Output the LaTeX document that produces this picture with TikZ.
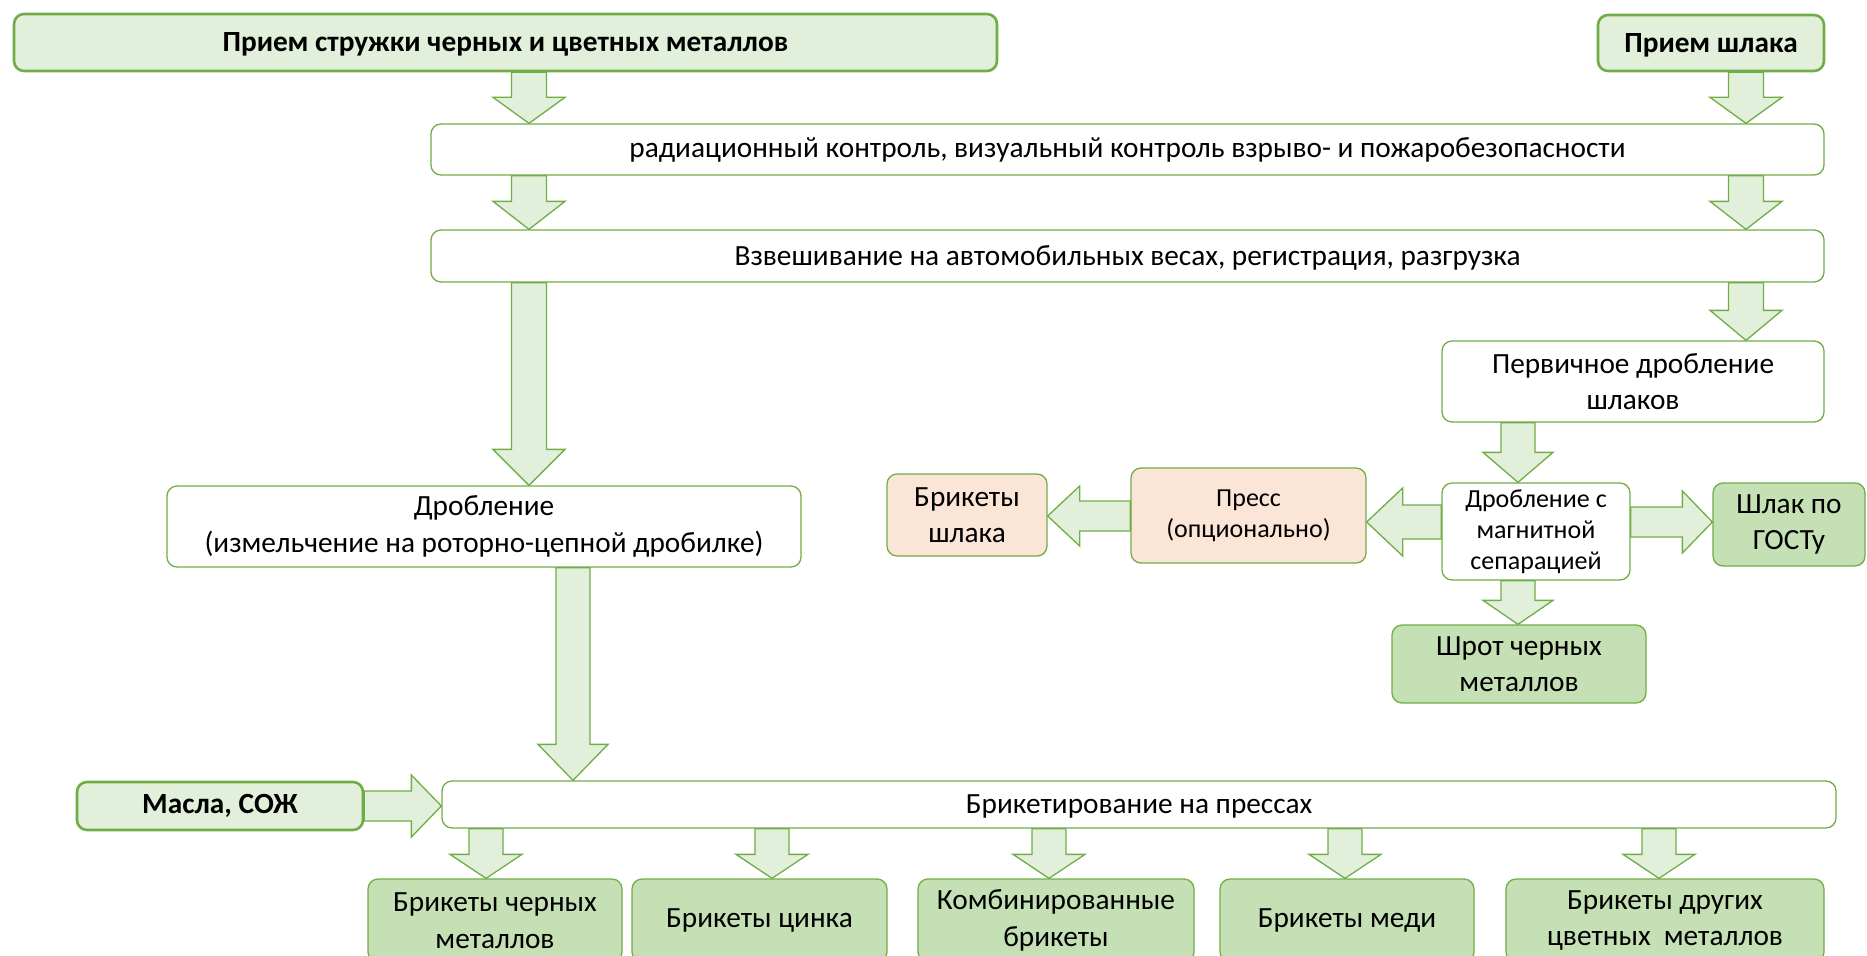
\documentclass[tikz,border=0pt]{standalone}
\usepackage{fontspec}
\setmainfont{Carlito}
\usepackage{tikz}
\usetikzlibrary{calc}
\definecolor{LeafGreen}{HTML}{70AD47}
\definecolor{PaleGreen}{HTML}{E2EFDA}
\definecolor{MossGreen}{HTML}{C5E0B4}
\definecolor{Peach}{HTML}{FBE5D6}

\tikzset{
  basebox/.style={draw=LeafGreen, line width=1.3pt, rounded corners=10pt,
    align=center, inner sep=0pt, text=black, font=\fontsize{29.3}{36.5}\selectfont},
  stepbox/.style={basebox, fill=white},
  srcbox/.style={basebox, line width=2.6pt, fill=PaleGreen,
    font=\bfseries\fontsize{29.3}{36.5}\selectfont},
  prodbox/.style={basebox, fill=MossGreen},
  pressbox/.style={basebox, fill=Peach},
  smalltext/.style={font=\fontsize{26}{31}\selectfont},
  lowtext/.style={text depth=0pt},
  blockarrow/.style={draw=LeafGreen, line width=1.3pt, fill=PaleGreen, line join=miter},
}

% fat arrow: from, to, shaft half width, head half width, head length
\newcommand{\fatarrow}[5]{%
  \path (#1) coordinate (fa-s) (#2) coordinate (fa-e);
  \path ($(fa-e)!#5!(fa-s)$) coordinate (fa-b);
  \draw[blockarrow] ($(fa-s)!#3!90:(fa-e)$) -- ($(fa-b)!#3!90:(fa-e)$)
    -- ($(fa-b)!#4!90:(fa-e)$) -- (fa-e) -- ($(fa-b)!#4!-90:(fa-e)$)
    -- ($(fa-b)!#3!-90:(fa-e)$) -- ($(fa-s)!#3!-90:(fa-e)$) -- cycle;}

\begin{document}
\begin{tikzpicture}[x=1pt, y=-1pt]
  \useasboundingbox (0,0) rectangle (1867,955);

  % inputs
  \node[srcbox, lowtext, minimum width=983pt, minimum height=57pt] (recv) at (505.5,42.5)
    {Прием стружки черных и цветных металлов};
  \node[srcbox, lowtext, minimum width=226pt, minimum height=56pt] (slag) at (1711,43)
    {Прием шлака};

  % common steps
  \node[stepbox, minimum width=1393pt, minimum height=51pt] (rad) at (1127.5,149.5)
    {радиационный контроль, визуальный контроль взрыво- и пожаробезопасности};
  \node[stepbox, lowtext, minimum width=1393pt, minimum height=52pt] (weigh) at (1127.5,256)
    {Взвешивание на автомобильных весах, регистрация, разгрузка};

  % slag branch
  \node[stepbox, minimum width=382pt, minimum height=81pt] (prim) at (1633,381.5)
    {Первичное дробление\\шлаков};
  \node[stepbox, smalltext, minimum width=188pt, minimum height=97pt] (sep) at (1536,531.5)
    {Дробление с\\магнитной\\сепарацией};
  \node[pressbox, smalltext, minimum width=235pt, minimum height=95pt] (press) at (1248.5,515.5)
    {Пресс\\(опционально)};
  \node[pressbox, minimum width=160pt, minimum height=82pt] (slagbr) at (967,515)
    {Брикеты\\шлака};
  \node[prodbox, minimum width=152pt, minimum height=83pt] (gost) at (1789,524.5)
    {Шлак по\\ГОСТу};
  \node[prodbox, minimum width=254pt, minimum height=78pt] (shot) at (1519,664)
    {Шрот черных\\металлов};

  % chip branch
  \node[stepbox, minimum width=634pt, minimum height=81pt] (crush) at (484,526.5)
    {Дробление\\(измельчение на роторно-цепной дробилке)};
  \node[srcbox, minimum width=286pt, minimum height=48pt] (oil) at (220,806)
    {Масла, СОЖ};
  \node[stepbox, lowtext, minimum width=1394pt, minimum height=47pt] (brik) at (1139,804.5)
    {Брикетирование на прессах};

  % products
  \node[prodbox, minimum width=254pt, minimum height=83pt] (out1) at (495,920.5)
    {Брикеты черных\\металлов};
  \node[prodbox, minimum width=255pt, minimum height=83pt] (out2) at (759.5,920.5)
    {Брикеты цинка};
  \node[prodbox, minimum width=276pt, minimum height=83pt] (out3) at (1056,920.5)
    {Комбинированные\\брикеты};
  \node[prodbox, minimum width=254pt, minimum height=83pt] (out4) at (1347,920.5)
    {Брикеты меди};
  \node[prodbox, minimum width=318pt, minimum height=83pt] (out5) at (1665,920.5)
    {Брикеты других\\цветных\ \ металлов};

  % arrow columns and rows
  \coordinate (colL) at (529,0);
  \coordinate (colR) at (1746,0);
  \coordinate (colS) at (1518,0);
  \coordinate (colF) at (573,0);
  \coordinate (rowSep) at (0,522);
  \coordinate (rowPress) at (0,516);

  \fatarrow{recv.south -| colL}{rad.north -| colL}{17.5pt}{36pt}{26pt}
  \fatarrow{slag.south -| colR}{rad.north -| colR}{17.5pt}{36pt}{26pt}
  \fatarrow{rad.south -| colL}{weigh.north -| colL}{17.5pt}{36pt}{28pt}
  \fatarrow{rad.south -| colR}{weigh.north -| colR}{17.5pt}{36pt}{28pt}
  \fatarrow{weigh.south -| colR}{prim.north -| colR}{17.5pt}{36pt}{30pt}
  \fatarrow{weigh.south -| colL}{crush.north -| colL}{17.5pt}{36pt}{36pt}
  \fatarrow{prim.south -| colS}{sep.north -| colS}{17pt}{35pt}{30pt}
  \fatarrow{sep.south -| colS}{shot.north -| colS}{17pt}{35pt}{24pt}
  \fatarrow{crush.south -| colF}{brik.north -| colF}{17pt}{35pt}{36pt}
  \fatarrow{sep.west |- rowSep}{press.east |- rowSep}{17pt}{34pt}{36pt}
  \fatarrow{press.west |- rowPress}{slagbr.east |- rowPress}{15pt}{30pt}{32pt}
  \fatarrow{sep.east |- rowSep}{gost.west |- rowSep}{15pt}{31pt}{30pt}
  \fatarrow{oil.east}{brik.west |- oil.east}{15pt}{31pt}{30pt}
  \foreach \n/\c in {out1/486, out2/772, out3/1049, out4/1345, out5/1659} {
    \coordinate (col) at (\c,0);
    \fatarrow{brik.south -| col}{\n.north -| col}{17pt}{36pt}{24pt}
  }
\end{tikzpicture}
\end{document}
